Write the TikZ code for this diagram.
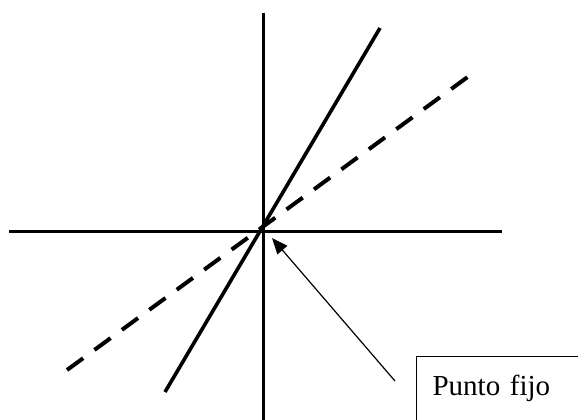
\documentclass[tikz,border=0pt]{standalone}
\usepackage{fontspec}
\setmainfont{Liberation Serif}
\usetikzlibrary{arrows.meta}
\tikzset{
  axis/.style={line width=3pt},
  solidline/.style={line width=3.6pt},
  dashline/.style={line width=4pt, dash pattern=on 20pt off 14pt},
  pointer/.style={line width=1.2pt, -{Triangle[length=16pt,width=13pt]}},
  labelbox/.style={draw, line width=1.2pt, anchor=north west, inner xsep=16pt, inner ysep=20pt,
    text width=150pt, align=left, text height=19pt, text depth=6pt, font=\fontsize{29}{31}\selectfont}
}
\begin{document}
\begin{tikzpicture}[x=1pt,y=-1pt]
\useasboundingbox (0,0) rectangle (578,420);
\clip (0,0) rectangle (578,420);
\fill[white] (0,0) rectangle (578,420);
\coordinate (xl) at (9,231);
\coordinate (xr) at (502,231);
\coordinate (yt) at (263,13);
\coordinate (yb) at (263,420);
\coordinate (sa) at (165,392);
\coordinate (sb) at (380,28);
\coordinate (da) at (67,370);
\coordinate (db) at (469,76);
\coordinate (tail) at (395,381);
\coordinate (tip) at (272,238);
\draw[axis] (xl) -- (xr);
\draw[axis] (yt) -- (yb);
\draw[solidline] (sa) -- (sb);
\draw[dashline] (da) -- (db);
\draw[pointer] (tail) -- (tip);
\node[labelbox] (box) at (416,356) {Punto fijo};
\end{tikzpicture}
\end{document}
